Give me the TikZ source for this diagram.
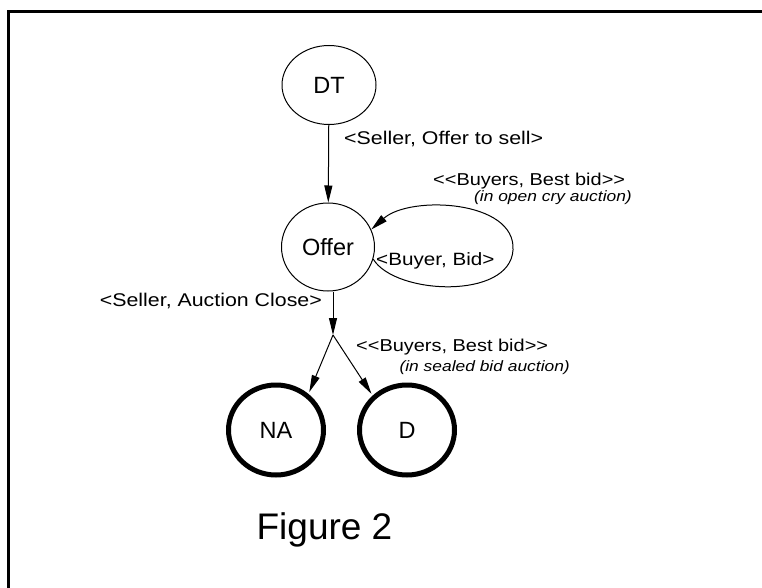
\documentclass[tikz,border=0pt]{standalone}
\usepackage{fontspec}
\setmainfont{Liberation Sans}[Ligatures=TeXOff]
\usepackage{graphicx}
\usetikzlibrary{shapes.geometric, arrows.meta, positioning}

\newcommand{\widetxt}[1]{\scalebox{1.16}[1]{#1}}

\begin{document}
\begin{tikzpicture}[x=1pt, y=-1pt,
  state/.style={draw, ellipse, line width=1pt, inner sep=0pt, font=\fontsize{23.5}{26}\selectfont},
  final/.style={state, line width=5pt, minimum width=95pt, minimum height=90pt},
  arr/.style={-{Triangle[length=17pt, width=8pt]}, line width=1pt},
  lbl/.style={inner sep=0pt, font=\fontsize{18.4}{20}\selectfont},
  note/.style={inner sep=0pt, font=\fontsize{15}{17}\selectfont\itshape}]
\useasboundingbox (0,0) rectangle (762,588);

% frame (only top and left edges show)
\draw[line width=3pt] (8.5,588) -- (8.5,11.5) -- (762,11.5);

% states
\node[state, minimum width=94pt, minimum height=79pt] (dt) at (329,85) {DT};
\node[state, minimum width=93pt, minimum height=88pt] (offer) at (328,247) {Offer};
\node[final] (na) at (276,430) {NA};
\node[final] (d) at (407,430) {D};
\coordinate (split) at (333,335);
\coordinate (loopR) at (513,250);

% transitions
\draw[arr] (dt) -- (offer);
\draw[arr] (offer.-15) .. controls (395,295) and (510,300) .. (loopR)
  .. controls (516,200) and (410,195) .. (offer.22);
\draw[arr] (offer.south -| split) -- (split);
\draw[arr, shorten >=2pt] (split) -- (na.48);
\draw[arr, shorten >=2pt] (split) -- (d.135);

% labels
\node[lbl, anchor=west] (sell) at (344,139) {\widetxt{<Seller, Offer to sell>}};
\node[lbl, anchor=west, font=\fontsize{17.2}{19}\selectfont] (bestopen) at (433,181) {\widetxt{<<Buyers, Best bid>>}};
\node[note, anchor=east] (opencry) at (632,198) {\widetxt{(in open cry auction)}};
\node[lbl, anchor=west, font=\fontsize{17.8}{19}\selectfont] (bid) at (376,261) {\widetxt{<Buyer, Bid>}};
\node[lbl, anchor=east] (close) at (322,301) {\widetxt{<Seller, Auction Close>}};
\node[lbl, anchor=west, font=\fontsize{17.2}{19}\selectfont] (bestsealed) at (356,347) {\widetxt{<<Buyers, Best bid>>}};
\node[note, anchor=east] (sealed) at (570,368) {\widetxt{(in sealed bid auction)}};

\node[inner sep=0pt, anchor=base, font=\fontsize{37}{40}\selectfont] (fig) at (324.5,539) {Figure 2};
\end{tikzpicture}
\end{document}
